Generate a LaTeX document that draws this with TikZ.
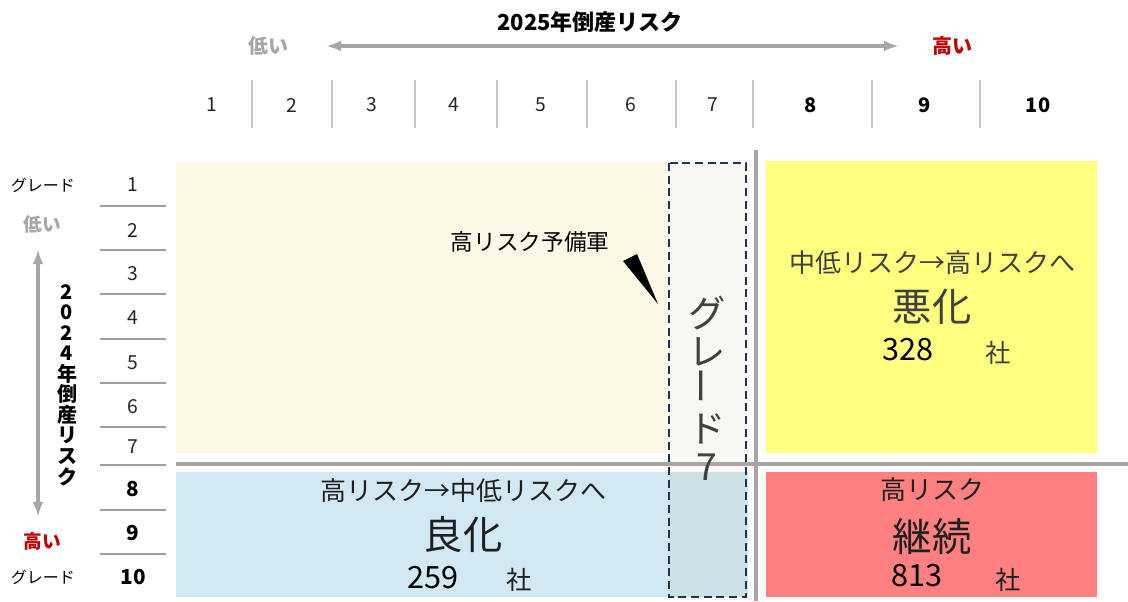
\documentclass[tikz,border=0pt]{standalone}
\usepackage{fontspec}
\setmainfont{Noto Sans CJK JP}
\usetikzlibrary{arrows}

\begin{document}
\begin{tikzpicture}[x=0.75pt,y=-0.75pt,
  every node/.style={inner sep=0pt,anchor=center},
  colnum/.style={font=\fontsize{14.5}{16}\selectfont,text=black!85},
  rownum/.style={font=\fontsize{14.5}{16}\selectfont,text=black!85},
  headtext/.style={font=\fontsize{15}{17}\selectfont\bfseries},
  sidetext/.style={font=\fontsize{12}{14}\selectfont},
  axisline/.style={axisgray,line width=2.6pt,latex-latex},
  sepline/.style={black!22,line width=1pt},
  rowline/.style={black!38,line width=0.9pt},
  boxtop/.style={font=\fontsize{19.5}{22}\selectfont},
  boxbig/.style={font=\fontsize{29.5}{32}\selectfont},
  boxnum/.style={font=\fontsize{23}{26}\selectfont,text=black},
  boxunit/.style={font=\fontsize{19}{22}\selectfont}]
  \definecolor{cream}{HTML}{FEF8E6}
  \definecolor{worseyellow}{HTML}{FFFF80}
  \definecolor{betterblue}{HTML}{D2E8F2}
  \definecolor{stayred}{HTML}{FF8080}
  \definecolor{axisgray}{HTML}{A6A6A6}
  \definecolor{highred}{HTML}{C00000}
  \definecolor{darktext}{HTML}{404040}
  \definecolor{navy}{HTML}{1F3358}
  \definecolor{bandtint}{HTML}{8A6A20}
  \useasboundingbox (0,0) rectangle (1128,601);
  % quadrants
  \fill [cream] (176,162) rectangle (669,453);
  \fill [worseyellow] (766,161) rectangle (1097,453);
  \fill [betterblue] (176,472) rectangle (748,597);
  \fill [stayred] (766,472) rectangle (1097,597);
  \fill [bandtint,fill opacity=0.05] (669,163) rectangle (746,597);
  \draw [axisgray,line width=2.6pt] (176,464) -- (1128,464);
  \draw [axisgray,line width=2.6pt] (756,150) -- (756,601);
  \draw [navy,line width=2.1pt,dash pattern=on 6pt off 3.5pt] (669,163) rectangle (746,597);
  % 2025 axis
  \node [headtext,font=\fontsize{16.5}{18}\selectfont\bfseries] (xtitle) at (590,22) {2025年倒産リスク};
  \node [headtext,text=axisgray] (xlow) at (268,46) {低い};
  \node [headtext,text=highred] (xhigh) at (952,46) {高い};
  \coordinate (xleft) at (327,46);
  \coordinate (xright) at (898,46);
  \draw [axisline] (xleft) -- (xright);
  \foreach \n/\x in {1/212,2/292,3/372,4/454,5/541,6/631,7/713}
    \node [colnum] (col\n) at (\x,105) {\n};
  \foreach \n/\x in {8/811,9/925,10/1038}
    \node [colnum,font=\fontsize{15}{16}\selectfont\bfseries,text=black] (col\n) at (\x,105) {\n};
  \foreach \x in {252,332,415,497,587,676,753,872,980}
    \draw [sepline] (\x,80) -- (\x,128);
  % 2024 axis
  \node [sidetext] (gradetop) at (43,185) {グレード};
  \node [sidetext] (gradebot) at (43,577) {グレード};
  \node [headtext,font=\fontsize{14}{15}\selectfont\bfseries,text=axisgray] (ylow) at (42,224) {低い};
  \node [headtext,font=\fontsize{14}{15}\selectfont\bfseries,text=highred] (yhigh) at (42,541) {高い};
  \coordinate (ytop) at (38,250);
  \coordinate (ybottom) at (38,516);
  \draw [axisline] (ytop) -- (ybottom);
  \node [align=center,font=\fontsize{15}{15.4}\selectfont\bfseries] (ytitle) at (67,385)
    {2\\0\\2\\4\\年\\倒\\産\\リ\\ス\\ク};
  \foreach \n/\y in {1/185,2/230,3/274,4/318,5/363,6/407,7/447}
    \node [rownum] (row\n) at (133,\y) {\n};
  \foreach \n/\y in {8/489,9/533,10/577}
    \node [rownum,font=\fontsize{15.5}{17}\selectfont\bfseries,text=black] (row\n) at (133,\y) {\n};
  \foreach \y in {206,250,294,339,383,427,465,510,554}
    \draw [rowline] (100,\y) -- (166,\y);
  % grade 7 band
  \node [font=\fontsize{17}{19}\selectfont] (reserve) at (530,242) {高リスク予備軍};
  \coordinate (wedgea) at (623,261);
  \coordinate (wedgeb) at (637,254);
  \coordinate (wedgetip) at (658,304);
  \fill (wedgea) -- (wedgeb) -- (wedgetip) -- cycle;
  \node [align=center,font=\fontsize{28}{28.5}\selectfont,text=darktext] (bandlabel) at (707,388)
    {グ\\レ\\\rotatebox{90}{ー}\\ド\\7};
  % quadrant texts
  \node [boxtop,text=darktext] (worsetop) at (932,263) {中低リスク→高リスクへ};
  \node [boxbig,text=darktext] (worsebig) at (932,307) {悪化};
  \node [boxnum] (worsenum) at (908,350) {328};
  \node [boxunit,text=darktext] (worseunit) at (998,353) {社};
  \node [boxtop,text=black!88] (bettertop) at (463,491) {高リスク→中低リスクへ};
  \node [boxbig,text=black!88] (betterbig) at (463,535) {良化};
  \node [boxnum] (betternum) at (433,578) {259};
  \node [boxunit,text=black!88] (betterunit) at (519,580) {社};
  \node [boxtop,text=black!88] (staytop) at (932,490) {高リスク};
  \node [boxbig,text=black!88] (staybig) at (932,537) {継続};
  \node [boxnum] (staynum) at (917,576) {813};
  \node [boxunit,text=black!88] (stayunit) at (1008,580) {社};
 \end{tikzpicture}
\end{document}
